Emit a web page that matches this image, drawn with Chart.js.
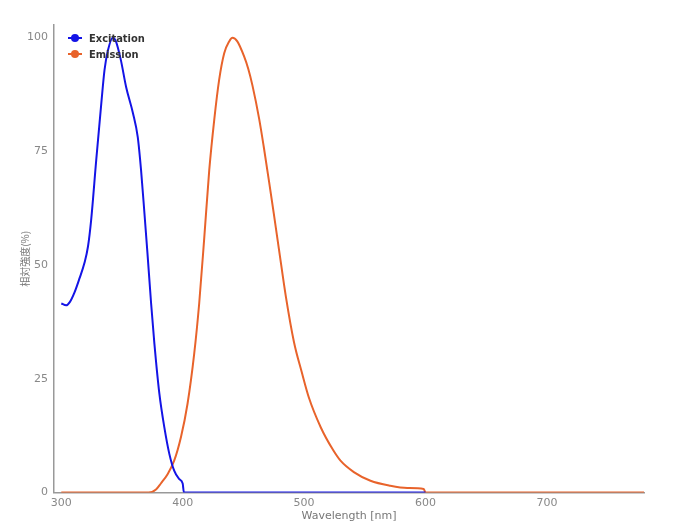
<!DOCTYPE html>
<html>
<head>
<meta charset="utf-8">
<script src="https://cdn.jsdelivr.net/npm/chart.js@4"></script>
<style>
  html, body { margin: 0; padding: 0; background: #fff; }
  #wrap { width: 688px; height: 523px; }
</style>
</head>
<body>
<div id="wrap"><canvas id="spectrumChart"></canvas></div>
<script>
// excitation spectrum (nm, %)
const excitationNm = [300, 304, 307, 311, 315, 319, 322, 324.6, 328.8, 333, 335.6, 338.4, 342.5, 345, 349, 353.4, 359, 363, 365.7, 368.5, 371, 374, 376.7, 380.8, 384.9, 389, 393, 397, 400, 401, 600];
const excitationVal = [41.5, 41.1, 41.8, 44, 47, 50.3, 54, 59.8, 73, 85.5, 92.7, 97, 99.8, 99, 95, 89, 83.3, 78, 70.8, 61.3, 52.5, 41.5, 32.7, 21.7, 14.3, 8.5, 4.8, 3, 2, 0, 0];

// emission spectrum (nm, %)
const emissionNm = [300, 372, 378, 382, 387.7, 393, 398.6, 404, 409.5, 413.6, 417.8, 421.9, 426, 430, 434.2, 438.3, 441, 445, 450.6, 454, 457.5, 463, 467, 471, 475, 479.4, 485, 491.7, 498, 504, 513.6, 523.3, 530, 541, 554.7, 571, 585, 598.6, 600, 780];
const emissionVal = [0, 0, 0.7, 2, 4.1, 7, 12.2, 19.5, 30.5, 41.5, 56, 70.8, 81.8, 90.5, 96.4, 99, 99.8, 99, 95.7, 93, 89.3, 82, 75.5, 68.5, 61.3, 53.2, 43, 33, 26.5, 20.8, 14.4, 9.6, 7, 4.5, 2.6, 1.5, 1, 0.8, 0, 0];

const xTicks = [300, 350, 400, 450, 500, 550, 600, 650, 700, 750];
const yTicks = [0, 25, 50, 75, 100];

const toPoints = (xs, ys) => xs.map((x, i) => ({ x: x, y: ys[i] }));

// legend drawn inside the plot, top-left
const insideLegend = {
  id: "insideLegend",
  afterDatasetsDraw(chart) {
    const ctx = chart.ctx;
    const a = chart.chartArea;
    ctx.save();
    chart.data.datasets.forEach((ds, i) => {
      const y = a.top + 13 + i * 16;
      const x = a.left + 14;
      ctx.strokeStyle = ds.borderColor;
      ctx.fillStyle = ds.borderColor;
      ctx.lineWidth = 2;
      ctx.beginPath();
      ctx.moveTo(x, y);
      ctx.lineTo(x + 14, y);
      ctx.stroke();
      ctx.beginPath();
      ctx.arc(x + 7, y, 4, 0, Math.PI * 2);
      ctx.fill();
      ctx.fillStyle = "#333";
      ctx.font = "bold 11px 'DejaVu Sans Condensed', 'DejaVu Sans', sans-serif";
      ctx.textBaseline = "middle";
      ctx.fillText(ds.label, x + 21, y + 1);
    });
    ctx.restore();
  },
};

new Chart(document.getElementById("spectrumChart"), {
  type: "line",
  data: {
    datasets: [
      {
        label: "Excitation",
        data: toPoints(excitationNm, excitationVal),
        borderColor: "#1414e6",
        borderWidth: 2,
        pointRadius: 0,
        cubicInterpolationMode: "monotone",
      },
      {
        label: "Emission",
        data: toPoints(emissionNm, emissionVal),
        borderColor: "#e8632b",
        borderWidth: 2,
        pointRadius: 0,
        cubicInterpolationMode: "monotone",
      },
    ],
  },
  options: {
    responsive: true,
    maintainAspectRatio: false,
    animation: false,
    layout: { padding: { top: 25, right: 44, left: 19, bottom: 0 } },
    plugins: {
      legend: { display: false },
      tooltip: { enabled: false },
    },
    scales: {
      x: {
        type: "linear",
        min: 294,
        max: 780,
        afterBuildTicks: (axis) => {
          axis.ticks = xTicks.map((v) => ({ value: v }));
        },
        grid: { display: false, drawOnChartArea: false, drawTicks: true, tickLength: 4, color: "#999" },
        border: { color: "#999", width: 1.5 },
        ticks: {
          color: "#888",
          font: { family: "'DejaVu Sans', sans-serif", size: 11 },
          padding: 0,
          maxRotation: 0,
          autoSkip: false,
          callback: (v) => (v % 100 === 0 ? v : ""),
        },
        title: {
          display: true,
          text: "Wavelength [nm]",
          color: "#777",
          font: { family: "'DejaVu Sans', sans-serif", size: 11 },
          padding: { top: 0, bottom: 0 },
        },
      },
      y: {
        min: 0,
        max: 102.6,
        afterBuildTicks: (axis) => {
          axis.ticks = yTicks.map((v) => ({ value: v }));
        },
        grid: { display: false, drawOnChartArea: false, drawTicks: true, tickLength: 4, color: "#999" },
        border: { color: "#999", width: 1.5 },
        ticks: {
          color: "#888",
          font: { family: "'DejaVu Sans', sans-serif", size: 11 },
          padding: 2,
        },
        title: {
          display: true,
          text: "相対強度(%)",
          color: "#777",
          font: { family: "'Noto Sans CJK JP', sans-serif", size: 10 },
          padding: { top: 0, bottom: -6 },
        },
      },
    },
  },
  plugins: [insideLegend],
});
</script>
</body>
</html>
